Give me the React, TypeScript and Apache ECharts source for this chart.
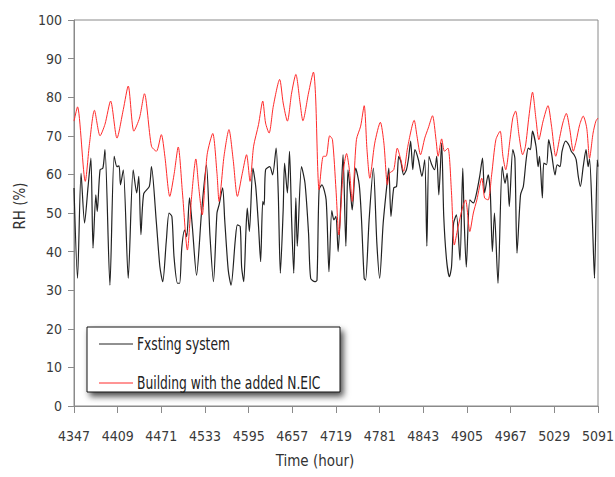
import React, { useEffect, useRef } from "react";
import * as echarts from "echarts";

// Simulation hours shown on the time axis
const HOUR_START = 4347;
const HOUR_END = 5091;
const HOUR_STEP = 62;

// Relative humidity, existing system: [hour, RH %]
const existingRH: [number, number][] = [
  [4347, 56.5], [4352, 33.1], [4357, 60.3], [4362, 47.4], [4367, 56.9], [4371, 64.2], [4374, 40.9],
  [4378, 54.7], [4380, 50.4], [4384, 61.2], [4388, 61.6], [4391, 66.4], [4398, 31.3], [4404, 64.7],
  [4408, 62], [4411, 62.2], [4413, 57.3], [4417, 61.2], [4424, 33.1], [4431, 61.2], [4436, 55.2],
  [4439, 59.5], [4442, 44.4], [4446, 55], [4454, 56.9], [4457, 62], [4464, 47.4], [4469, 36],
  [4473, 32.2], [4478, 42.6], [4482, 50], [4486, 49.1], [4489, 38.7], [4494, 31.8], [4497, 31.8],
  [4500, 40.9], [4504, 45.6], [4507, 43.9], [4511, 53.9], [4515, 46.5], [4521, 33.9], [4528, 50],
  [4535, 62.5], [4540, 44.3], [4545, 32.2], [4550, 50], [4553, 52.1], [4558, 56.5], [4561, 48.2],
  [4566, 35.2], [4570, 31.3], [4576, 43], [4579, 46.9], [4583, 46.5], [4585, 36], [4588, 32.2],
  [4591, 44.8], [4593, 51.3], [4596, 45.2], [4601, 61.6], [4605, 56.9], [4609, 46.5], [4612, 37.4],
  [4615, 53], [4617, 52.1], [4619, 61.2], [4625, 62], [4629, 59.9], [4634, 66.8], [4637, 55.2],
  [4640, 34.4], [4644, 50.8], [4646, 62.9], [4650, 55.2], [4653, 66], [4656, 48.2], [4659, 34.4],
  [4662, 53.9], [4664, 41.4], [4670, 62], [4675, 57.7], [4680, 44.8], [4683, 33.1], [4689, 32.2],
  [4692, 32.6], [4695, 56], [4699, 57.3], [4705, 53.4], [4709, 34.8], [4713, 50.6], [4716, 48.2],
  [4719, 49.1], [4722, 40], [4726, 53.4], [4729, 65.1], [4733, 41.4], [4736, 61.2], [4740, 54.3],
  [4742, 50.8], [4747, 61.6], [4752, 57.3], [4755, 49.1], [4759, 33.1], [4761, 32.6], [4766, 48.2],
  [4772, 61.6], [4777, 42.2], [4781, 33.1], [4786, 47.4], [4792, 58.6], [4794, 61.6], [4797, 49.1],
  [4801, 56.5], [4805, 56.9], [4808, 64.7], [4811, 63.4], [4815, 59.9], [4819, 61.2], [4822, 64.2],
  [4825, 68.6], [4828, 61.2], [4831, 66.4], [4836, 63.8], [4841, 59.5], [4845, 63.8], [4848, 41.4],
  [4851, 64.7], [4855, 62.5], [4859, 61.2], [4862, 64.7], [4865, 54.7], [4869, 68.1], [4872, 49.1],
  [4876, 37.8], [4880, 33.5], [4883, 36], [4886, 47.4], [4890, 49.5], [4895, 37.8], [4899, 61.6],
  [4901, 48.2], [4904, 36], [4909, 53.4], [4914, 52.6], [4918, 54.7], [4923, 59.5], [4927, 64.2],
  [4930, 55.2], [4935, 59.9], [4938, 55.6], [4941, 40], [4944, 50], [4949, 31.8], [4955, 62],
  [4959, 57.7], [4962, 60.3], [4965, 51.7], [4970, 66.4], [4973, 64.2], [4976, 39.6], [4981, 54.7],
  [4985, 56.9], [4989, 63.8], [4992, 66.8], [4995, 66.4], [4998, 71.2], [5003, 67.3], [5006, 62],
  [5008, 64.7], [5012, 53.9], [5014, 62.9], [5018, 62.5], [5021, 69], [5025, 65.5], [5030, 59.9],
  [5033, 62.5], [5037, 62], [5040, 66], [5045, 68.6], [5050, 67.5], [5053, 66], [5057, 65.1],
  [5060, 63.8], [5063, 59.5], [5066, 56.9], [5070, 62], [5074, 66.4], [5077, 62], [5079, 64],
  [5083, 48.2], [5086, 33.1], [5090, 63.8], [5091, 62],
];

// Relative humidity, building with the added N.EIC: [hour, RH %]
const neicRH: [number, number][] = [
  [4347, 73.8], [4352, 77.5], [4363, 58.2], [4369, 68], [4376, 76.6], [4384, 70], [4391, 73],
  [4399, 79], [4408, 69.4], [4417, 76.8], [4424, 82.9], [4432, 71.2], [4440, 74.6], [4447, 80.9],
  [4457, 67.3], [4464, 66], [4471, 70.3], [4476, 64.7], [4483, 54.3], [4489, 59.9], [4495, 67.1],
  [4501, 55.2], [4508, 40.4], [4514, 54.3], [4520, 64], [4524, 56.9], [4529, 49.5], [4536, 65.1],
  [4544, 70.6], [4550, 60.3], [4553, 53], [4560, 64.7], [4567, 71.6], [4573, 63.8], [4579, 54.3],
  [4586, 60.3], [4592, 65.1], [4597, 58.2], [4602, 67.3], [4609, 72.9], [4615, 79], [4619, 73.3],
  [4624, 70.7], [4630, 77.7], [4639, 84.6], [4644, 78.5], [4650, 73.8], [4656, 81.1], [4662, 85.9],
  [4668, 78.5], [4672, 73.9], [4680, 81.1], [4687, 86.5], [4690, 80.3], [4695, 56], [4701, 64.7],
  [4705, 64.7], [4710, 70], [4714, 69], [4719, 56], [4723, 44.3], [4729, 60.3], [4734, 65.4],
  [4738, 61.2], [4742, 53], [4748, 69], [4754, 72.5], [4759, 77.8], [4763, 66.4], [4767, 59],
  [4774, 68.1], [4782, 73.5], [4787, 68.1], [4792, 57.3], [4795, 60.3], [4801, 61.2], [4806, 66.8],
  [4811, 63.8], [4815, 60.8], [4821, 67.3], [4830, 74], [4834, 69.9], [4839, 65.1], [4845, 69.4],
  [4850, 72], [4856, 75.2], [4861, 69], [4864, 64.7], [4869, 69.2], [4873, 66], [4878, 66.8],
  [4883, 55.2], [4887, 41.7], [4892, 46.1], [4899, 51.7], [4903, 53.4], [4909, 45.2], [4914, 50],
  [4919, 53.4], [4926, 59], [4930, 53.9], [4935, 53.4], [4940, 59.9], [4946, 69], [4952, 71.2],
  [4956, 64.7], [4960, 61.2], [4966, 69], [4970, 74.6], [4974, 76.4], [4979, 69.9], [4984, 65.1],
  [4988, 67.3], [4993, 75.1], [4998, 81.3], [5003, 74.2], [5007, 69], [5013, 73.8], [5020, 77.8],
  [5025, 72.5], [5031, 64.7], [5037, 69.9], [5041, 73.3], [5046, 75.8], [5051, 71.6], [5056, 66],
  [5060, 68.6], [5065, 72.9], [5070, 75.1], [5075, 72], [5079, 64.2], [5084, 70.7], [5088, 73.8],
  [5091, 74.6],
];

const SERIES_NAMES = ["Fxsting system", "Building with the added N.EIC"];
const SERIES_COLORS = ["#222222", "#ff2a2a"];

const FONT = "'Liberation Sans Narrow', 'DejaVu Sans Condensed', 'Arial Narrow', sans-serif";

// The time axis counts hours from HOUR_START so the 62-hour ticks begin at the first hour.
const toAxis = (pts: [number, number][]) => pts.map(([h, v]) => [h - HOUR_START, v]);

// Boxed legend with a drop shadow, set in the lower-left corner of the plot
function legendGraphic() {
  const boxX = 87;
  const boxY = 327;
  const rows = [344, 383];
  return [
    {
      type: "rect",
      shape: { x: boxX, y: boxY, width: 253, height: 65 },
      style: {
        fill: "#ffffff",
        stroke: "#111111",
        lineWidth: 1,
        shadowBlur: 6,
        shadowColor: "rgba(0,0,0,0.7)",
        shadowOffsetX: 3,
        shadowOffsetY: 4,
      },
      z: 10,
    },
    ...SERIES_NAMES.flatMap((name, i) => [
      {
        type: "line",
        shape: { x1: 99, y1: rows[i], x2: 133, y2: rows[i] },
        style: { stroke: SERIES_COLORS[i], lineWidth: 1 },
        z: 11,
      },
      {
        type: "text",
        x: 137,
        y: rows[i],
        scaleX: 0.76,
        style: {
          text: name,
          x: 0,
          y: 0,
          fill: "#222222",
          fontFamily: FONT,
          fontSize: 18,
          align: "left",
          verticalAlign: "middle",
        },
        z: 11,
      },
    ]),
  ];
}

export default function App() {
  const ref = useRef<HTMLDivElement>(null);

  useEffect(() => {
    if (!ref.current) return;
    const chart = echarts.init(ref.current, null, { renderer: "svg" });
    chart.setOption({
      animation: false,
      backgroundColor: "#ffffff",
      grid: {
        left: 74,
        right: 17,
        top: 20,
        bottom: 71,
        containLabel: false,
        outerBoundsMode: "none",
        show: true,
        borderColor: "#8a8a8a",
        borderWidth: 1,
        backgroundColor: "transparent",
      },
      xAxis: {
        type: "value",
        min: 0,
        max: HOUR_END - HOUR_START,
        interval: HOUR_STEP,
        name: "Time (hour)",
        nameLocation: "middle",
        nameGap: 47,
        nameTextStyle: { fontFamily: FONT, fontSize: 15, color: "#333333", padding: [0, 42, 0, 0] },
        axisLine: { show: true, lineStyle: { color: "#8a8a8a", width: 1 } },
        axisTick: { show: true, length: 7, lineStyle: { color: "#8a8a8a" } },
        axisLabel: {
          margin: 23,
          fontFamily: FONT,
          fontSize: 14,
          color: "#3a3a3a",
          formatter: (v: number) => String(v + HOUR_START),
        },
        splitLine: { show: false },
      },
      yAxis: {
        type: "value",
        min: 0,
        max: 100,
        interval: 10,
        name: "RH (%)",
        nameLocation: "middle",
        nameGap: 38,
        nameTextStyle: { fontFamily: FONT, fontSize: 15, color: "#333333", padding: [0, 0, 0, 14] },
        axisLine: { show: true, lineStyle: { color: "#8a8a8a", width: 1 } },
        axisTick: { show: true, length: 6, lineStyle: { color: "#8a8a8a" } },
        axisLabel: { margin: 12, fontFamily: FONT, fontSize: 14, color: "#3a3a3a" },
        splitLine: { show: false },
      },
      series: [
        {
          name: SERIES_NAMES[0],
          type: "line",
          data: toAxis(existingRH),
          showSymbol: false,
          smooth: 0.25,
          color: SERIES_COLORS[0],
          lineStyle: { color: SERIES_COLORS[0], width: 1.2 },
          z: 2,
        },
        {
          name: SERIES_NAMES[1],
          type: "line",
          data: toAxis(neicRH),
          showSymbol: false,
          smooth: 0.25,
          color: SERIES_COLORS[1],
          lineStyle: { color: SERIES_COLORS[1], width: 1 },
          z: 3,
        },
      ],
      graphic: legendGraphic(),
    });
    return () => chart.dispose();
  }, []);

  return (
    <div
      ref={ref}
      style={{ position: "fixed", left: 0, top: 0, width: 615, height: 477, background: "#fff" }}
    />
  );
}
